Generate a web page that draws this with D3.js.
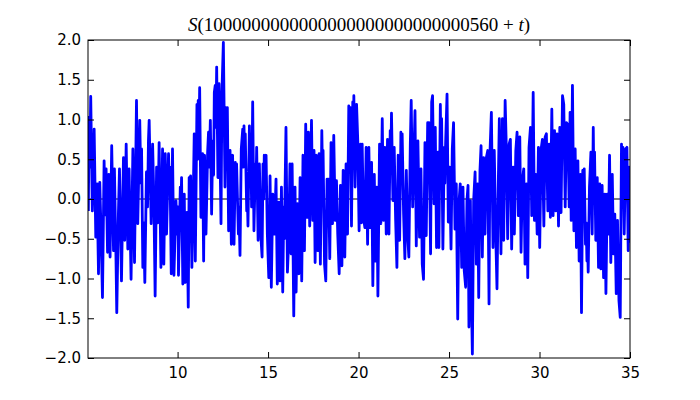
<!DOCTYPE html>
<html>
<head>
<meta charset="utf-8">
<script src="https://cdn.jsdelivr.net/npm/d3@7"></script>
<style>
  body { margin: 0; background: #fff; }
  svg text { font-family: "DejaVu Sans", sans-serif; }
</style>
</head>
<body>
<div id="chart"></div>
<script>
// S(T + t), t on the x axis
var offsetDigits = '1000000000000000000000000000560';
var xTicks = [10, 15, 20, 25, 30, 35];
var yTicks = [-2, -1.5, -1, -0.5, 0, 0.5, 1, 1.5, 2];

var tVals = [
    5.07, 5.11, 5.15, 5.20, 5.29, 5.39, 5.48, 5.55, 5.63, 5.70, 5.77, 5.85, 5.94, 6.00, 6.05, 6.13,
    6.20, 6.27, 6.36, 6.46, 6.51, 6.59, 6.64, 6.73, 6.79, 6.90, 7.01, 7.08, 7.16, 7.25, 7.32, 7.43,
    7.53, 7.62, 7.73, 7.80, 7.91, 7.97, 8.01, 8.08, 8.13, 8.19, 8.28, 8.34, 8.39,
    8.43, 8.54, 8.62, 8.69, 8.76, 8.84, 8.91, 8.98, 9.08, 9.17, 9.24, 9.32, 9.39, 9.50, 9.54, 9.58,
    9.65, 9.72, 9.80, 9.91, 9.98, 10.02, 10.05, 10.15, 10.18, 10.22, 10.29, 10.37, 10.42, 10.52,
    10.59, 10.64, 10.68, 10.72, 10.79, 10.87, 10.92, 10.98, 11.07, 11.11, 11.14, 11.18, 11.22,
    11.29, 11.38, 11.44, 11.49, 11.57, 11.66, 11.71, 11.75, 11.81, 11.88, 11.94, 11.99, 12.03,
    12.08, 12.12, 12.16, 12.23, 12.29,
    12.40, 12.45, 12.53, 12.62, 12.67, 12.71, 12.75, 12.82, 12.90, 12.97, 13.04, 13.12, 13.19,
    13.23, 13.26, 13.36, 13.39, 13.45, 13.52, 13.60, 13.63, 13.67, 13.71, 13.74, 13.82, 13.85,
    13.89, 13.97, 14.00, 14.04, 14.09, 14.15, 14.22, 14.30, 14.33, 14.37, 14.45, 14.52, 14.61,
    14.67, 14.72, 14.76, 14.79, 14.85, 14.89, 14.96, 15.04, 15.11, 15.18, 15.26, 15.35, 15.44,
    15.51, 15.59, 15.66, 15.74, 15.81, 15.87, 15.90, 15.94, 15.99, 16.07, 16.14, 16.21,
    16.27, 16.33, 16.42, 16.49, 16.55, 16.62, 16.70, 16.77, 16.86, 16.93, 17.01, 17.08, 17.16,
    17.23, 17.30, 17.40, 17.47, 17.54, 17.60, 17.67, 17.75, 17.82, 17.89, 17.97, 18.01, 18.04,
    18.12, 18.19, 18.26, 18.30, 18.34, 18.41, 18.48, 18.56, 18.63, 18.71, 18.78, 18.85, 18.93,
    19.00, 19.08, 19.15, 19.24, 19.31, 19.39, 19.46, 19.50, 19.54, 19.61, 19.68, 19.72, 19.74,
    19.81, 19.89, 19.96, 20.03,
    20.11, 20.16, 20.20, 20.27, 20.35, 20.42, 20.50, 20.57, 20.64, 20.72, 20.79, 20.87, 20.94,
    21.01, 21.07, 21.16, 21.23, 21.31, 21.38, 21.45, 21.53, 21.60, 21.68, 21.75, 21.79, 21.82,
    21.90, 21.97, 22.05, 22.12, 22.19, 22.27, 22.34, 22.38, 22.41, 22.49, 22.56, 22.64, 22.71,
    22.78, 22.86, 22.91, 22.99, 23.06, 23.12, 23.19, 23.28, 23.37, 23.45, 23.52, 23.59, 23.67,
    23.74, 23.82, 23.85, 23.89,
    23.98, 24.04, 24.09, 24.17, 24.24, 24.31, 24.39, 24.44, 24.52, 24.55, 24.59, 24.66, 24.74,
    24.77, 24.81, 24.89, 24.96, 25.03, 25.11, 25.18, 25.25, 25.33, 25.40, 25.48, 25.55, 25.62,
    25.70, 25.77, 25.84, 25.92, 25.99, 26.05, 26.10, 26.18, 26.23, 26.29, 26.36, 26.44, 26.51,
    26.58, 26.64, 26.71, 26.77, 26.84, 26.91, 26.99, 27.06, 27.14, 27.21, 27.26, 27.34, 27.43,
    27.50, 27.58, 27.65, 27.73, 27.78,
    27.87, 27.95, 28.02, 28.10, 28.17, 28.24, 28.32, 28.39, 28.46, 28.54, 28.61, 28.69, 28.76,
    28.83, 28.91, 28.98, 29.05, 29.13, 29.20, 29.28, 29.35, 29.42, 29.50, 29.57, 29.65, 29.72,
    29.79, 29.87, 29.94, 30.01, 30.09, 30.16, 30.24, 30.31, 30.38, 30.46, 30.53, 30.60, 30.68,
    30.75, 30.83, 30.90, 30.97, 31.05, 31.12, 31.19, 31.27, 31.34, 31.42, 31.49, 31.56, 31.64,
    31.69, 31.75, 31.82, 31.90, 31.97, 32.04, 32.12, 32.19, 32.26, 32.32, 32.39, 32.43, 32.47,
    32.54, 32.58, 32.62, 32.65, 32.69, 32.76, 32.84, 32.91, 32.97, 33.00, 33.04, 33.11, 33.19,
    33.26, 33.33, 33.39, 33.46, 33.54, 33.61, 33.67, 33.74, 33.81, 33.87, 33.94, 34.02, 34.09,
    34.16, 34.24, 34.31, 34.39, 34.46, 34.53, 34.57, 34.61, 34.68, 34.76, 34.83, 34.90, 34.96, 35.00
];

var sVals = [
    -0.15, 1.03, 0.40, 1.29, -0.15, 0.88, -0.48, 0.19, -0.94, 0.21, -0.40, -1.24, 0.48, -0.20, 0.38, -0.67,
    0.31, -0.73, 0.67, -0.65, 0.38, -0.65, -1.43, -0.19, 0.38, -1.03, 0.52, -0.52, 0.69, -0.63, 0.38, -1.01,
    0.63, -0.80, 1.24, -0.31, 0.99, 0.20, 0.63, -0.86, -0.30, -1.05, 0.34, -0.10, 0.73,
    0.99, -0.31, 0.69, 0.00, -1.22, 0.40, -0.30, 0.71, -0.86, 0.63, -0.82, 0.57, -0.44, 0.57, 0.20, 0.40,
    -0.94, 0.63, -0.96, -0.02, -0.44, -0.10, -0.96, 0.15, -0.20, 0.27, -1.07, 0.06, -1.05, -0.17,
    -1.36, 0.27, -0.20, 0.29, -0.86, 0.10, 0.82, -0.78, 1.19, 0.50, 1.24, 0.70, 1.40,
    -0.23, 0.57, -0.78, 0.55, -0.44, 0.59, 0.84, 0.40, 0.99, -0.19, 0.73, 0.30, 1.34,
    1.43, 0.90, 1.66, 0.27, 1.45,
    -0.31, 1.34, 1.97, 0.15, 1.15, 0.40, 1.15, -0.40, 0.61, -0.57, 0.55, -0.57, 0.46,
    0.10, 0.44, -0.44, -0.10, -0.71, 0.63, 0.88, 0.40, 0.92, 0.50, 0.82, -0.15, 0.10,
    -0.34, 0.92, 0.40, 0.82, -0.10, 1.22, -0.40, 0.44, 0.10, 0.65, -0.52, 0.44, -0.50,
    -0.73, 0.44, 0.00, 0.55, 0.10, 0.55, -0.44, -0.99, 0.29, -1.11, 0.06, -0.44, 0.25,
    -1.07, -0.04, -1.03, 0.15, -1.17, -0.10, -0.50, 0.15, 0.90, -0.92, -0.52, 0.44,
    -0.69, 0.44, -1.47, 0.15, -1.17, -0.06, -0.94, 0.27, -1.03, 0.55, -0.65, 0.94, -0.23,
    0.84, -0.34, 0.99, -0.27, 0.61, -0.80, 0.55, -0.65, 0.57, -0.82, 0.86, 0.30, 0.61,
    -0.82, -1.03, 0.25, -0.10, 0.25, -0.75, 0.71, -0.31, 0.80, -0.27, 0.23, -0.44, -0.94,
    0.17, -0.84, 0.36, -0.73, 0.44, -0.44, 1.17, 0.60, 1.15, -0.34, 1.22, 0.70, 1.30,
    0.15, 1.19, 0.71, -0.40,
    0.69, -0.30, 0.69, -0.23, -0.36, 0.65, -0.57, 0.65, -0.36, 0.46, -1.09, 0.31, -0.78,
    0.15, -1.22, 0.69, -0.31, 1.01, -0.27, 0.65, -0.44, 0.75, -0.44, 0.86, 0.50, 1.08,
    -0.02, 0.65, -0.27, -0.86, 0.55, -0.52, 0.84, 0.40, 0.82, -0.19, -0.75, 0.36, -0.44,
    -0.73, 0.69, 1.24, -0.10, 0.55, 1.11, -0.59, 0.73, -0.48, 0.38, -0.82, -1.01, 0.71,
    -0.46, 0.96, 0.40, 0.96,
    -0.69, 1.22, 1.30, -0.06, 0.90, -0.61, 0.59, -0.61, 1.19, 0.60, 1.01, -0.63, 0.65,
    0.20, 0.69, 1.32, -0.29, 0.40, -0.63, 0.63, 0.96, -0.38, 0.19, -1.51, -0.04, 0.19,
    -0.86, 0.15, -0.90, -1.11, -0.02, 0.17, -1.61, -0.02, -1.15, -1.95, -0.02, 0.34, -0.82,
    0.19, -1.24, 0.36, 0.67, -0.73, 0.52, -0.44, 0.52, 0.61, -1.32, 0.57, 1.09, -0.61,
    0.61, -0.44, -1.13, 0.31, 1.01,
    -0.69, 1.01, -0.52, 1.24, 0.61, -0.50, 0.69, 0.75, -0.63, 0.40, -0.44, 0.61, 0.84,
    -0.21, 0.78, -0.67, 0.23, 0.38, -0.82, 0.19, -0.99, 0.65, 0.90, -0.21, 1.34, -0.27,
    0.31, -0.44, 0.65, -0.61, 0.63, 0.75, -0.34, 0.78, 0.82, -0.15, 0.69, -0.23, 1.13,
    -0.21, 0.86, -0.15, 0.82, -0.34, 0.90, -0.17, 1.30, 1.19, -0.10, 0.96, 0.94, -0.10,
    1.09, -0.27, 1.43, -0.40, 0.63, -0.61, 0.48, -0.78, 0.31, -1.43, 0.36, 0.00, 0.38,
    -0.57, -0.30, -0.78, -0.50, -0.92, 0.15, 0.59, -0.44, 0.90, 0.30, 0.59, -0.52, 0.27,
    -0.86, 0.19, -0.88, 0.17, -0.99, 0.06, -1.19, 0.06, -0.44, 0.55, -0.80, 0.31, -0.69,
    -0.19, -1.19, -0.27, -1.28, -1.49, 0.69, 0.20, 0.65, -0.44, 0.63, 0.65, -0.65, 0.40, -0.55
];

var width = 700,
    height = 400,
    margin = { top: 40, right: 70, bottom: 42, left: 88 };

var points = tVals.map(function(t, i) { return [t, sVals[i]]; });

var svg = d3.select('#chart').append('svg')
    .attr('width', width)
    .attr('height', height)
    .style('display', 'block')
    .style('background', '#fff');

var x = d3.scaleLinear()
    .domain([5.05, 35])
    .range([margin.left, width - margin.right]);

var y = d3.scaleLinear()
    .domain([-2, 2])
    .range([height - margin.bottom, margin.top]);

var clip = svg.append('clipPath')
    .attr('id', 'plot-clip')
    .append('rect')
    .attr('x', margin.left)
    .attr('y', margin.top)
    .attr('width', width - margin.left - margin.right)
    .attr('height', height - margin.top - margin.bottom);

// zero line under the trace
svg.append('line')
    .attr('x1', x.range()[0])
    .attr('x2', x.range()[1])
    .attr('y1', y(0))
    .attr('y2', y(0))
    .attr('stroke', '#000')
    .attr('stroke-width', 1);

var line = d3.line()
    .x(function(d) { return x(d[0]); })
    .y(function(d) { return y(d[1]); });

svg.append('path')
    .datum(points)
    .attr('clip-path', 'url(#plot-clip)')
    .attr('fill', 'none')
    .attr('stroke', '#0000ff')
    .attr('stroke-width', 2.8)
    .attr('stroke-linejoin', 'round')
    .attr('d', line);

function styleAxis(g) {
    g.select('.domain').remove();
    g.selectAll('.tick line').attr('stroke', '#000');
    g.selectAll('.tick text')
        .attr('fill', '#000')
        .style('font-family', '"DejaVu Sans", sans-serif')
        .style('font-size', '15px');
}

svg.append('g')
    .attr('transform', 'translate(0,' + y.range()[0] + ')')
    .call(d3.axisBottom(x).tickValues(xTicks).tickFormat(d3.format('d')).tickSize(-6).tickPadding(9))
    .call(styleAxis);

svg.append('g')
    .attr('transform', 'translate(0,' + y.range()[1] + ')')
    .call(d3.axisTop(x).tickValues(xTicks).tickFormat('').tickSize(-6))
    .call(styleAxis);

svg.append('g')
    .attr('transform', 'translate(' + x.range()[0] + ',0)')
    .call(d3.axisLeft(y).tickValues(yTicks).tickFormat(d3.format('.1f')).tickSize(-6).tickPadding(7))
    .call(styleAxis);

svg.append('g')
    .attr('transform', 'translate(' + x.range()[1] + ',0)')
    .call(d3.axisRight(y).tickValues(yTicks).tickFormat('').tickSize(-6))
    .call(styleAxis);

// frame
svg.append('rect')
    .attr('x', x.range()[0])
    .attr('y', y.range()[1])
    .attr('width', x.range()[1] - x.range()[0])
    .attr('height', y.range()[0] - y.range()[1])
    .attr('fill', 'none')
    .attr('stroke', '#000')
    .attr('stroke-width', 1);

var title = svg.append('text')
    .attr('x', (x.range()[0] + x.range()[1]) / 2)
    .attr('y', 31)
    .attr('text-anchor', 'middle')
    .style('font-family', '"Liberation Serif", "DejaVu Serif", serif')
    .style('font-size', '19px')
    .attr('fill', '#000');

title.append('tspan').style('font-style', 'italic').text('S');
title.append('tspan').text('(' + offsetDigits + ' + ');
title.append('tspan').style('font-style', 'italic').text('t');
title.append('tspan').text(')');
</script>
</body>
</html>
